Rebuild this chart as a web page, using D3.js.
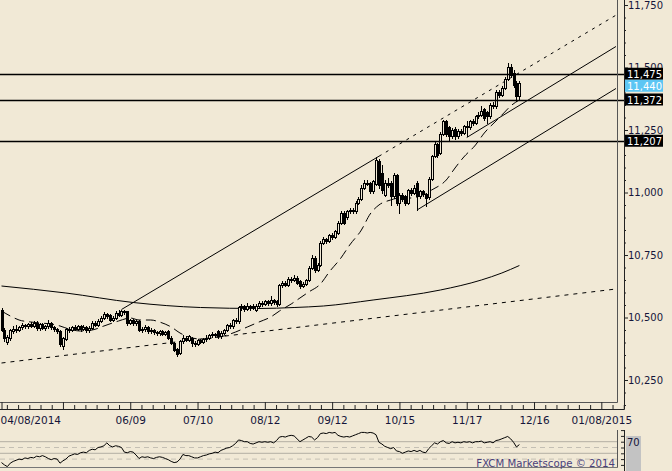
<!DOCTYPE html>
<html><head><meta charset="utf-8">
<script src="https://cdn.jsdelivr.net/npm/d3@7"></script>
<style>
html,body{margin:0;padding:0;background:#f1e9d6;}
svg{display:block;font-family:"DejaVu Sans",Verdana,sans-serif;}
</style></head><body>
<svg id="c" width="672" height="471"></svg>
<script>
// ---------- DATA (daily bars, index 0 = 04/08/2014) ----------
const opens=[
10530,10452,10402,10420,10448,10456,10450,10462,10470,10464,
10475,10468,10480,10458,10474,10460,10466,10478,10462,10455,
10445,10385,10415,10455,10450,10462,10456,10465,10455,10463,
10450,10460,10478,10472,10488,10500,10515,10512,10490,10500,
10520,10512,10525,10525,10480,10490,10478,10486,10450,10456,
10463,10446,10452,10442,10438,10446,10436,10445,10420,10400,
10375,10358,10408,10420,10412,10420,10400,10395,10410,10404,
10415,10420,10428,10435,10445,10425,10440,10450,10470,10465,
10490,10485,10540,10545,10535,10546,10540,10530,10548,10560,
10555,10565,10558,10570,10568,10555,10630,10640,10632,10655,
10650,10660,10645,10628,10635,10650,10700,10740,10690,10710,
10800,10815,10808,10830,10822,10840,10880,10920,10900,10925,
10930,10925,10960,10975,11020,11040,11038,11005,11035,11128,
11080,10990,11040,11040,10985,11070,10960,10990,10985,10960,
11010,11000,11040,10985,11005,10995,10982,11055,11145,11195,
11160,11235,11285,11260,11225,11255,11225,11245,11240,11265,
11262,11285,11280,11305,11310,11335,11320,11305,11350,11345,
11400,11390,11420,11455,11500,11480,11440,11385];
const closes=[
10452,10418,10422,10450,10456,10450,10462,10470,10464,10475,
10468,10480,10458,10474,10460,10466,10478,10462,10455,10445,
10395,10418,10455,10450,10462,10456,10465,10455,10463,10450,
10460,10478,10472,10488,10500,10515,10506,10490,10500,10520,
10512,10525,10522,10480,10490,10478,10486,10450,10456,10463,
10446,10452,10442,10438,10446,10436,10442,10420,10400,10372,
10356,10408,10420,10412,10425,10400,10395,10410,10404,10415,
10420,10428,10435,10430,10425,10440,10450,10470,10465,10490,
10485,10540,10545,10535,10546,10540,10548,10548,10560,10555,
10565,10558,10570,10562,10555,10630,10640,10632,10655,10650,
10660,10640,10628,10635,10650,10700,10740,10690,10710,10800,
10815,10808,10830,10822,10845,10880,10920,10880,10925,10930,
10925,10960,10975,11020,11040,11035,11005,11045,11130,11030,
11010,11040,11030,10985,11070,10960,10990,10975,10960,11010,
11000,11020,10985,11005,10995,10980,11055,11145,11195,11150,
11235,11285,11235,11225,11250,11225,11245,11240,11265,11262,
11285,11280,11305,11310,11325,11300,11305,11350,11345,11400,
11390,11420,11455,11500,11470,11430,11385,11440];
const highs=[
10538,10458,10428,10455,10465,10470,10468,10478,10475,10480,
10482,10486,10484,10480,10478,10472,10490,10482,10468,10460,
10450,10422,10460,10462,10468,10470,10472,10470,10470,10468,
10466,10484,10486,10494,10508,10522,10520,10516,10506,10526,
10532,10530,10532,10528,10496,10495,10492,10490,10462,10470,
10468,10458,10456,10448,10452,10450,10448,10450,10425,10404,
10380,10412,10428,10426,10432,10424,10408,10415,10416,10420,
10428,10434,10442,10440,10450,10446,10456,10476,10478,10496,
10498,10546,10556,10552,10560,10552,10556,10554,10566,10568,
10572,10570,10585,10575,10572,10636,10648,10646,10662,10664,
10672,10665,10650,10642,10656,10706,10748,10745,10718,10806,
10822,10820,10836,10838,10852,10886,10928,10925,10932,10940,
10938,10966,10982,11028,11048,11048,11044,11052,11140,11135,
11110,11050,11058,11046,11078,11076,10998,11000,10992,11016,
11018,11028,11046,11012,11010,11000,11060,11150,11202,11200,
11242,11292,11290,11268,11258,11262,11252,11256,11272,11285,
11292,11294,11312,11320,11346,11340,11328,11358,11362,11408,
11412,11428,11462,11518,11512,11488,11446,11445];
const lows=[
10445,10408,10395,10412,10440,10444,10445,10455,10458,10460,
10462,10462,10452,10452,10455,10452,10460,10456,10448,10438,
10385,10375,10410,10444,10445,10450,10450,10448,10450,10444,
10444,10455,10466,10468,10482,10495,10500,10484,10485,10495,
10506,10508,10515,10472,10474,10472,10472,10445,10442,10448,
10440,10440,10436,10430,10432,10430,10430,10415,10394,10366,
10345,10352,10400,10405,10406,10385,10388,10390,10398,10400,
10408,10414,10422,10424,10420,10420,10434,10445,10458,10460,
10478,10480,10532,10528,10530,10532,10534,10525,10542,10548,
10550,10552,10552,10556,10548,10550,10624,10626,10628,10644,
10645,10634,10620,10622,10630,10645,10695,10684,10685,10705,
10794,10800,10802,10815,10818,10835,10875,10872,10895,10918,
10918,10920,10955,10970,11014,11028,10998,11000,11030,11020,
11000,10985,11022,10950,10980,10952,10920,10968,10950,10955,
10992,10994,10930,10980,10985,10945,10976,11050,11140,11142,
11155,11228,11225,11205,11218,11215,11218,11232,11235,11225,
11256,11272,11275,11298,11305,11292,11280,11300,11338,11340,
11382,11385,11415,11450,11462,11422,11365,11375];
const rsi=[
34,30,27,33,36,38,40,39,42,41,
43,42,45,44,46,44,41,39,41,40,
33,37,40,45,47,49,48,51,52,51,
55,57,56,60,61,63,68,63,61,63,
62,60,52,51,53,52,47,41,44,43,
44,42,41,43,44,43,41,39,36,34,
35,40,48,46,46,44,42,42,44,46,
47,49,50,52,51,55,57,59,60,63,
67,73,72,70,70,67,66,68,70,69,
70,69,70,68,72,78,79,78,80,81,
80,75,70,73,76,79,78,73,77,84,
85,84,86,85,86,81,79,78,79,78,
80,82,84,86,86,85,86,85,82,69,
66,62,60,58,60,54,53,50,52,54,
53,55,53,55,52,51,58,63,68,66,
70,72,68,67,70,68,69,68,70,69,
70,68,70,70,71,68,69,70,68,72,
73,75,77,79,75,69,61,65];
// moving averages (bar index, value)
const sma200Idx=[0,22,45,68,88,100,110,127,150,164,171,177];
const sma200Val=[10626,10598,10560,10540,10536,10540,10546,10570,10610,10650,10678,10708];
const maIdx=[0,3,6,10,13,17,20,23,27,31,35,40,44,47,51,54,58,61,64,68,72,76,80,84,88,92,95,99,102,105,109,112,116,119,123,126,129,133,136,140,143,147,152,155,158,162,165,169,172,174,177];
const maVal=[10526,10506,10490,10482,10478,10474,10466,10454,10446,10450,10466,10486,10498,10490,10490,10482,10462,10438,10422,10414,10418,10426,10442,10462,10482,10502,10526,10554,10578,10602,10634,10682,10738,10790,10850,10914,10950,10970,10978,10978,10986,11010,11050,11098,11142,11190,11238,11286,11322,11346,11370];
// trendlines: [startIndex, startValue, endIndex, endValue]
const trendA=[41,10532,129,11145];   // solid, then dotted extension
const trendB=[142,10930,210,11416];
const trendC=[159,11220,210,11584];
const trendD=[0,10318,210,10614];    // dotted
const levels=[11475,11372,11207];
const lastPrice=11440;
const yTicks=[10250,10500,10750,11000,11250,11500,11750];
const xTickIdx=[0,21,44,67,90,113,136,159,182,205];
const xTickLabels=["04/08/2014","","06/09","07/10","08/12","09/12","10/15","11/17","12/16","01/08/2015"];
const rsiSolid=[70,50];
const rsiDashed=[60,40];

// ---------- LAYOUT ----------
const W=672,H=471, plotR=617, plotB=402, axX=624, axY=409;
const bg="#f1e9d6", ink="#15153a";
const svg=d3.select("#c");
const x=d3.scaleLinear().domain([0,177]).range([1.5,519.4]);
const y=d3.scaleLinear().domain([10250,11750]).range([380,5]);
const ry=d3.scaleLinear().domain([30,70]).range([464.9,441.7]);
const fmt=d3.format(",");

svg.append("rect").attr("width",W).attr("height",H).attr("fill",bg);
const defs=svg.append("defs");
defs.append("clipPath").attr("id","clip").append("rect").attr("x",0).attr("y",0).attr("width",plotR).attr("height",plotB);
defs.append("clipPath").attr("id","clip2").append("rect").attr("x",0).attr("y",428).attr("width",plotR).attr("height",39);

const g=svg.append("g").attr("clip-path","url(#clip)");

// trendlines
function seg(t){return [[x(t[0]),y(t[1])],[x(t[2]),y(t[3])]];}
function lineEl(p,dash,w){
  const l=g.append("line").attr("x1",p[0][0]).attr("y1",p[0][1]).attr("x2",p[1][0]).attr("y2",p[1][1])
    .attr("stroke","#000").attr("stroke-width",w||1);
  if(dash) l.attr("stroke-dasharray",dash);
}
lineEl(seg(trendD),"4,5",1);
lineEl(seg(trendA),null,1);
const slopeA=(trendA[3]-trendA[1])/(trendA[2]-trendA[0]);
lineEl(seg([trendA[2],trendA[3],212,trendA[3]+slopeA*(212-trendA[2])]),"3,5",1);
lineEl(seg(trendB),null,1);
lineEl(seg(trendC),null,1);

// 200 SMA
const sm=sma200Idx.map((d,i)=>[x(d),y(sma200Val[i])]);
g.append("path").attr("d",d3.line().curve(d3.curveMonotoneX)(sm)).attr("fill","none").attr("stroke","#000").attr("stroke-width",1);
// short MA dashed
const ma=maIdx.map((d,i)=>[x(d),y(maVal[i])]);
g.append("path").attr("d",d3.line().curve(d3.curveMonotoneX)(ma)).attr("fill","none").attr("stroke","#000").attr("stroke-width",1).attr("stroke-dasharray","10,5");

// candles
const cg=g.append("g");
opens.forEach((o,i)=>{
  const c=closes[i], px=Math.round(x(i));
  cg.append("line").attr("x1",px+0.5).attr("x2",px+0.5)
    .attr("y1",Math.round(y(highs[i]))).attr("y2",Math.round(y(lows[i]))+1)
    .attr("stroke","#000").attr("stroke-width",1);
  const top=Math.round(y(Math.max(o,c))), bot=Math.round(y(Math.min(o,c)));
  if(c>=o){
    cg.append("rect").attr("x",px-0.5).attr("y",top+0.5).attr("width",2).attr("height",Math.max(bot-top,1))
      .attr("fill",bg).attr("stroke","#000").attr("stroke-width",1);
  } else {
    cg.append("rect").attr("x",px-1).attr("y",top).attr("width",3).attr("height",Math.max(bot-top+1,2))
      .attr("fill","#000");
  }
});

// horizontal levels
levels.forEach(v=>{
  svg.append("line").attr("x1",0).attr("x2",axX).attr("y1",Math.round(y(v))+0.5).attr("y2",Math.round(y(v))+0.5)
    .attr("stroke","#000").attr("stroke-width",1.3);
});

// frame
svg.append("line").attr("x1",0).attr("x2",plotR+0.5).attr("y1",plotB+0.5).attr("y2",plotB+0.5).attr("stroke","#555");
svg.append("line").attr("x1",plotR+0.5).attr("x2",plotR+0.5).attr("y1",0).attr("y2",plotB+0.5).attr("stroke","#555");
svg.append("line").attr("x1",0).attr("x2",axX+0.5).attr("y1",axY+0.5).attr("y2",axY+0.5).attr("stroke","#222");
svg.append("line").attr("x1",axX+0.5).attr("x2",axX+0.5).attr("y1",0).attr("y2",axY+0.5).attr("stroke","#222");

// x axis
const xa=svg.append("g").attr("transform",`translate(0,${plotB})`)
  .call(d3.axisBottom(x).tickValues(xTickIdx).tickFormat((d,i)=>xTickLabels[i]).tickSize(7).tickPadding(8).tickSizeOuter(0));
xa.select(".domain").remove();
xa.attr("font-family","DejaVu Sans, Verdana, sans-serif").attr("font-size",10.5);
xa.selectAll("line").attr("stroke","#222");
xa.selectAll("text").attr("fill",ink).each(function(d,i){ if(i===0) d3.select(this).attr("text-anchor","start").attr("x",-1.5); });
const minorX=[];
for(let k=0;k<xTickIdx.length;k++){ const b=(k===0?-2:xTickIdx[k]); for(let j=1;j<6;j++) minorX.push(b+j*23/6); }
const xm=svg.append("g").attr("transform",`translate(0,${axY})`)
  .call(d3.axisBottom(x).tickValues(minorX.filter(v=>x(v)<axX)).tickFormat("").tickSize(-4).tickSizeOuter(0));
xm.select(".domain").remove(); xm.selectAll("line").attr("stroke","#222");

// y axis (the 11,500 label sits partly under the level tags, as in the original)
const ya=svg.append("g").attr("transform",`translate(${axX},0)`)
  .call(d3.axisRight(y).tickValues(yTicks).tickFormat(fmt).tickSize(4).tickPadding(0).tickSizeOuter(0));
ya.select(".domain").remove();
ya.attr("font-family","DejaVu Sans, Verdana, sans-serif").attr("font-size",10);
ya.selectAll("line").attr("stroke","#222");
ya.selectAll("text").attr("fill",ink);
const minorY=d3.range(10150,11800,50).filter(v=>!yTicks.includes(v));
const ym=svg.append("g").attr("transform",`translate(${axX},0)`)
  .call(d3.axisRight(y).tickValues(minorY).tickFormat("").tickSize(2).tickSizeOuter(0));
ym.select(".domain").remove(); ym.selectAll("line").attr("stroke","#222");

// level tags
function tag(v,yy,fill,txtFill){
  svg.append("rect").attr("x",625).attr("y",yy-6).attr("width",38).attr("height",12).attr("fill",fill);
  svg.append("text").attr("x",627).attr("y",yy+4).attr("font-size",10).attr("fill",txtFill).text(fmt(v));
}
levels.forEach(v=>tag(v,y(v),"#000","#fff"));
tag(lastPrice,y(11475)+12,"#5cc6f4","#fff");

// ---------- RSI panel ----------
rsiSolid.forEach(v=>svg.append("line").attr("x1",0).attr("x2",plotR).attr("y1",ry(v)).attr("y2",ry(v)).attr("stroke","#b3aea3").attr("stroke-width",1));
rsiDashed.forEach(v=>svg.append("line").attr("x1",0).attr("x2",plotR).attr("y1",ry(v)).attr("y2",ry(v)).attr("stroke","#c4bfb4").attr("stroke-width",1).attr("stroke-dasharray","5,4"));
svg.append("line").attr("x1",0).attr("x2",plotR+0.5).attr("y1",467.5).attr("y2",467.5).attr("stroke","#777");
svg.append("line").attr("x1",plotR+0.5).attr("x2",plotR+0.5).attr("y1",430).attr("y2",467.5).attr("stroke","#555");
svg.append("line").attr("x1",axX+0.5).attr("x2",axX+0.5).attr("y1",430).attr("y2",471).attr("stroke","#222");
const rt=svg.append("g").attr("transform",`translate(${axX},0)`)
  .call(d3.axisLeft(ry).tickValues([90,80,70,60,50,40,30]).tickFormat("").tickSize(3).tickSizeOuter(0));
rt.select(".domain").remove(); rt.selectAll("line").attr("stroke","#222");
svg.append("g").attr("clip-path","url(#clip2)").append("path")
  .attr("d",d3.line()(rsi.map((v,i)=>[x(i),ry(v)]))).attr("fill","none").attr("stroke","#000").attr("stroke-width",1);
svg.append("rect").attr("x",626).attr("y",436).attr("width",15).attr("height",35).attr("fill","#c3c3c3");
svg.append("text").attr("x",627).attr("y",ry(70)+4).attr("font-size",10).attr("fill",ink).text("70");
svg.append("text").attr("x",615).attr("y",467).attr("text-anchor","end").attr("font-size",10.2).attr("fill","#4a3f7c").text("FXCM Marketscope © 2014");
</script>
</body></html>
